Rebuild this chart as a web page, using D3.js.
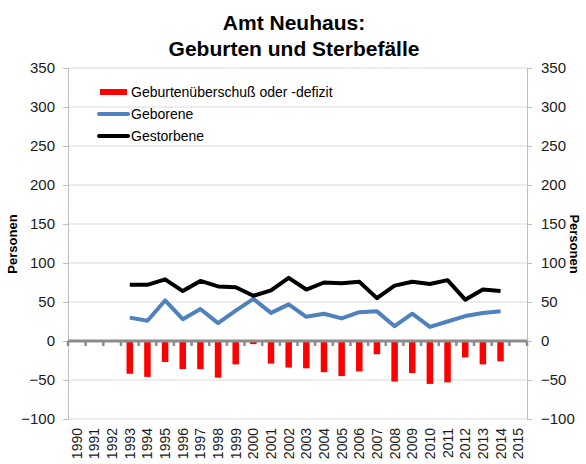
<!DOCTYPE html>
<html>
<head>
<meta charset="utf-8">
<script src="https://cdn.jsdelivr.net/npm/d3@7"></script>
<style>
body { margin: 0; background: #fff; }
text { font-family: "Liberation Sans", Arial, sans-serif; }
</style>
</head>
<body>
<div id="chart"></div>
<script>
const width = 586;
const height = 464;

// data
const years = d3.range(1990, 2016).map(String);
const geborene = [null, null, null, 30, 26, 52, 28, 41, 23, 39, 54, 36, 47, 31, 35, 29, 37, 38, 19, 35, 18, 25, 32, 36, 38, null];
const gestorbene = [null, null, null, 72, 72, 79, 64, 77, 70, 69, 58, 65, 81, 66, 75, 74, 76, 55, 71, 76, 73, 78, 53, 66, 64, null];
const saldo = [null, null, null, -42, -46, -27, -36, -36, -47, -30, -4, -29, -34, -35, -40, -45, -39, -17, -52, -41, -55, -53, -21, -30, -26, null];
const yTicks = [-100, -50, 0, 50, 100, 150, 200, 250, 300, 350];
const legendItems = ["Geburtenüberschuß oder -defizit", "Geborene", "Gestorbene"];
const legendColors = ["#ff0000", "#4f81bd", "#000000"];

const plot = {left: 68, right: 527, top: 68, bottom: 419};

let svg = d3.select("#chart").append("svg")
	.attr("width", width)
	.attr("height", height);

let x = d3.scaleBand()
	.domain(years)
	.range([plot.left, plot.right]);

let y = d3.scaleLinear()
	.domain([-100, 350])
	.range([plot.bottom, plot.top]);

// gridlines
svg.append("g")
	.selectAll("line")
	.data(yTicks)
	.enter().append("line")
	.attr("x1", plot.left)
	.attr("x2", plot.right)
	.attr("y1", d => y(d))
	.attr("y2", d => y(d))
	.attr("stroke", "#d9d9d9")
	.attr("stroke-width", 1);

// left + right axes
let leftAxis = svg.append("g")
	.attr("transform", "translate(" + plot.left + ",0)")
	.call(d3.axisLeft(y).tickValues(yTicks).tickSize(5).tickPadding(8));
let rightAxis = svg.append("g")
	.attr("transform", "translate(" + plot.right + ",0)")
	.call(d3.axisRight(y).tickValues(yTicks).tickSize(5).tickPadding(9));
[leftAxis, rightAxis].forEach(function(ax) {
	ax.select(".domain").attr("stroke", "#bfbfbf");
	ax.selectAll(".tick line").attr("stroke", "#bfbfbf");
	ax.selectAll(".tick text")
		.attr("fill", "#1a1a1a")
		.style("font-size", "15px")
		.style("font-family", "Liberation Sans, Arial, sans-serif");
});

// bars
const barW = 6.5;
svg.append("g")
	.selectAll("rect")
	.data(years.map((yr, i) => ({yr: yr, v: saldo[i]})).filter(d => d.v !== null))
	.enter().append("rect")
	.attr("x", d => x(d.yr) + x.bandwidth() / 2 - barW / 2)
	.attr("y", d => y(Math.max(0, d.v)))
	.attr("width", barW)
	.attr("height", d => Math.abs(y(d.v) - y(0)))
	.attr("fill", "#ff0000");

// zero axis with category ticks
let xAxis = svg.append("g")
	.attr("transform", "translate(0," + y(0) + ")");
xAxis.append("g")
	.selectAll("line")
	.data(d3.range(years.length + 1))
	.enter().append("line")
	.attr("x1", i => plot.left + i * x.step())
	.attr("x2", i => plot.left + i * x.step())
	.attr("y1", 0)
	.attr("y2", 5)
	.attr("stroke", "#8c8c8c")
	.attr("stroke-width", 2.5);
xAxis.append("line")
	.attr("x1", plot.left)
	.attr("x2", plot.right)
	.attr("stroke", "#8c8c8c")
	.attr("stroke-width", 3);

// year labels
svg.append("g")
	.selectAll("text")
	.data(years)
	.enter().append("text")
	.attr("transform", d => "translate(" + (x(d) + x.bandwidth() / 2 + 5) + "," + (plot.bottom + 9) + ") rotate(-90)")
	.attr("text-anchor", "end")
	.attr("fill", "#1a1a1a")
	.style("font-size", "14px")
	.text(d => d);

// lines
function drawLine(values, color) {
	let line = d3.line()
		.defined(d => d.v !== null)
		.x(d => x(d.yr) + x.bandwidth() / 2)
		.y(d => y(d.v));
	svg.append("path")
		.datum(years.map((yr, i) => ({yr: yr, v: values[i]})))
		.attr("d", line)
		.attr("fill", "none")
		.attr("stroke", color)
		.attr("stroke-width", 4)
		.attr("stroke-linejoin", "round");
}
drawLine(geborene, legendColors[1]);
drawLine(gestorbene, legendColors[2]);

// legend
let legend = svg.append("g");
legendItems.forEach(function(name, i) {
	let ly = 92 + i * 22;
	if (i === 0) {
		legend.append("rect")
			.attr("x", 100).attr("y", ly - 3)
			.attr("width", 27).attr("height", 6)
			.attr("fill", legendColors[i]);
	} else {
		legend.append("line")
			.attr("x1", 99).attr("x2", 128)
			.attr("y1", ly).attr("y2", ly)
			.attr("stroke", legendColors[i])
			.attr("stroke-width", 4)
			.attr("stroke-linecap", "round");
	}
	legend.append("text")
		.attr("x", 131).attr("y", ly + 5)
		.style("font-size", "14px")
		.text(name);
});

// axis titles
svg.append("text")
	.attr("transform", "translate(17,244) rotate(-90)")
	.attr("text-anchor", "middle")
	.style("font-size", "13px")
	.style("font-weight", "bold")
	.text("Personen");
svg.append("text")
	.attr("transform", "translate(570,244) rotate(90)")
	.attr("text-anchor", "middle")
	.style("font-size", "13px")
	.style("font-weight", "bold")
	.text("Personen");

// title
let title = svg.append("text")
	.attr("text-anchor", "middle")
	.style("font-size", "21px")
	.style("font-weight", "bold");
title.append("tspan").attr("x", 294).attr("y", 30).text("Amt Neuhaus:");
title.append("tspan").attr("x", 294).attr("y", 56).text("Geburten und Sterbefälle");
</script>
</body>
</html>
